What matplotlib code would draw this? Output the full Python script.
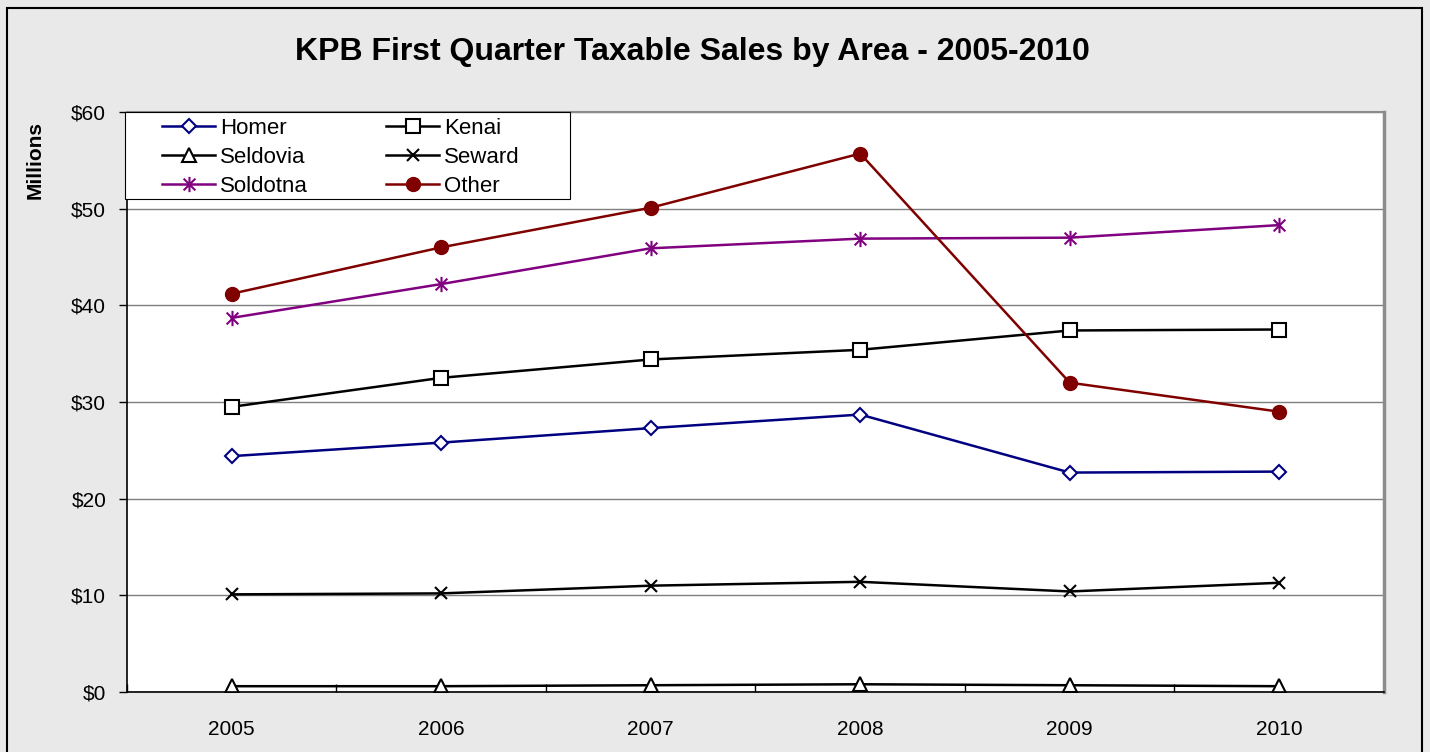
import numpy as np
import matplotlib
matplotlib.use("Agg")
from matplotlib import pyplot as plt
from matplotlib.path import Path
from matplotlib.patches import Rectangle

plt.rcParams["font.family"] = ["Liberation Sans", "DejaVu Sans"]

years = ["2005", "2006", "2007", "2008", "2009", "2010"]

homer = [24.4, 25.8, 27.3, 28.7, 22.7, 22.8]
kenai = [29.5, 32.5, 34.4, 35.4, 37.4, 37.5]
seldovia = [0.6, 0.6, 0.7, 0.8, 0.7, 0.6]
seward = [10.1, 10.2, 11.0, 11.4, 10.4, 11.3]
soldotna = [38.7, 42.2, 45.9, 46.9, 47.0, 48.3]
other = [41.2, 46.0, 50.1, 55.7, 32.0, 29.0]

W, H = 1430, 752

# excel style star marker: an x with a vertical bar
star = Path(
    [(-1, -1), (1, 1), (-1, 1), (1, -1), (0, -1.3), (0, 1.3)],
    [Path.MOVETO, Path.LINETO, Path.MOVETO, Path.LINETO, Path.MOVETO, Path.LINETO],
)

fig = plt.figure(figsize=(W / 100, H / 100), dpi=100)
fig.patch.set_facecolor("#e9e9e9")
# outer chart border (bottom edge is cut off in the original)
fig.patches.append(Rectangle((7 / W, -0.01), 1415 / W, 1.0 - 8 / H + 0.01,
                             transform=fig.transFigure, fill=False,
                             edgecolor="black", linewidth=1.5))

ax = fig.add_axes([127 / W, 60 / H, 1257 / W, 580 / H])
x = np.arange(len(years))

lw = 1.8
h_homer, = ax.plot(x, homer, "-D", color="#000080", lw=lw, markersize=7,
                   markerfacecolor="white", markeredgewidth=1.5, label="Homer")
h_kenai, = ax.plot(x, kenai, "-s", color="black", lw=lw, markersize=10,
                   markerfacecolor="white", markeredgewidth=1.5, label="Kenai")
h_seld, = ax.plot(x, seldovia, "-^", color="black", lw=lw, markersize=10,
                  markerfacecolor="white", markeredgewidth=1.5, label="Seldovia")
h_sew, = ax.plot(x, seward, "-x", color="black", lw=lw, markersize=9,
                 markeredgewidth=1.5, label="Seward")
h_sold, = ax.plot(x, soldotna, "-", marker=star, color="#800080", lw=lw,
                  markersize=11, markeredgewidth=1.5, label="Soldotna")
h_other, = ax.plot(x, other, "-o", color="#800000", lw=lw, markersize=10,
                   label="Other")

ax.set_xlim(-0.5, len(years) - 0.5)
ax.set_ylim(0, 60)
ax.set_yticks(np.arange(0, 61, 10))
ax.set_yticklabels(["$%d" % v for v in range(0, 61, 10)], fontsize=15)
ax.set_xticks(x)
ax.set_xticklabels(years, fontsize=15)
ax.set_xticks(np.arange(-0.5, len(years)), minor=True)
ax.tick_params(axis="x", which="major", length=0, pad=20)
ax.tick_params(axis="x", which="minor", length=6, direction="in", width=1)
ax.tick_params(axis="y", length=6, width=1, direction="out", pad=9)
ax.yaxis.grid(True, color="#7f7f7f", linewidth=1)
ax.set_axisbelow(True)

ax.spines["left"].set_linewidth(1.2)
ax.spines["bottom"].set_linewidth(1.2)
ax.spines["top"].set_color("#8c8c8c")
ax.spines["right"].set_color("#8c8c8c")
ax.spines["top"].set_linewidth(1.5)
ax.spines["right"].set_linewidth(2.5)

fig.text(692 / W, 1 - 52 / H, "KPB First Quarter Taxable Sales by Area - 2005-2010",
         ha="center", va="center", fontsize=23, fontweight="bold")
fig.text(35 / W, 1 - 160 / H, "Millions", rotation=90, ha="center", va="center",
         fontsize=15, fontweight="bold")

# legend box drawn separately so its padding matches the original
fig.patches.append(Rectangle((125 / W, 1 - 199 / H), 445 / W, 87 / H,
                             transform=fig.transFigure, facecolor="white",
                             edgecolor="black", linewidth=0.8, zorder=3))
leg = fig.legend([h_homer, h_seld, h_sold, h_kenai, h_sew, h_other],
                 ["Homer", "Seldovia", "Soldotna", "Kenai", "Seward", "Other"],
                 ncol=2, loc="upper left", bbox_to_anchor=(162 / W, 1 - 118 / H),
                 bbox_transform=fig.transFigure, fontsize=16, frameon=False,
                 handlelength=2.4, handletextpad=0.22, columnspacing=3.5,
                 labelspacing=0.36, borderpad=0, borderaxespad=0)
leg.set_zorder(4)

fig.savefig("out.png", dpi=100, facecolor=fig.get_facecolor())
